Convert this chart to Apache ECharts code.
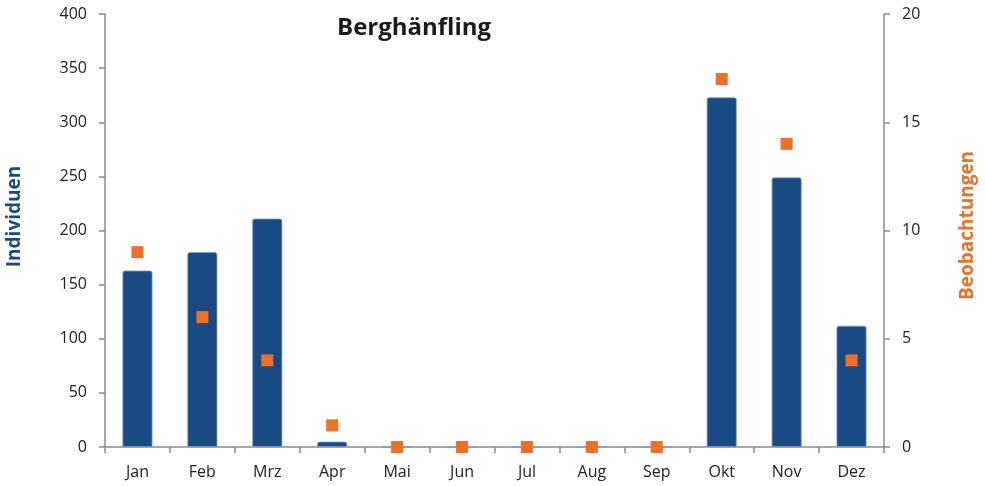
<!DOCTYPE html>
<html>
<head>
<meta charset="utf-8">
<script src="https://cdn.jsdelivr.net/npm/echarts@6/dist/echarts.min.js"></script>
<style>
  html, body { margin: 0; padding: 0; background: #fff; }
  #chart { width: 985px; height: 486px; }
</style>
</head>
<body>
<div id="chart"></div>
<script>
const months = ['Jan', 'Feb', 'Mrz', 'Apr', 'Mai', 'Jun', 'Jul', 'Aug', 'Sep', 'Okt', 'Nov', 'Dez']
const individuen = [163, 180, 211, 5, 0, 0, 0, 0, 0, 323, 249, 112]
const beobachtungen = [9, 6, 4, 1, 0, 0, 0, 0, 0, 17, 14, 4]
const leftTicks = [0, 400, 50]
const rightTicks = [0, 20, 5]

const fontFamily = '"Open Sans", "Liberation Sans", sans-serif'
const axisGray = '#8c8c8c'
const blue = '#1a4a84'
const orange = '#ec7025'

const chart = echarts.init(document.getElementById('chart'))
chart.setOption({
  backgroundColor: '#fff',
  animation: false,
  title: {
    text: 'Berghänfling',
    left: 332,
    top: 11,
    textStyle: {
      fontFamily: fontFamily,
      fontSize: 24,
      fontWeight: 'bold',
      color: '#1a1a1a'
    }
  },
  grid: {
    left: 105,
    right: 101,
    top: 14,
    bottom: 39,
    outerBoundsMode: 'none'
  },
  xAxis: {
    type: 'category',
    data: months,
    boundaryGap: true,
    axisLine: { lineStyle: { color: axisGray, width: 1.5 } },
    axisTick: { show: true, length: 6, lineStyle: { color: axisGray, width: 1.5 } },
    axisLabel: {
      margin: 17,
      fontFamily: fontFamily,
      fontSize: 16,
      color: '#222'
    }
  },
  yAxis: [
    {
      type: 'value',
      min: leftTicks[0],
      max: leftTicks[1],
      interval: leftTicks[2],
      name: 'Individuen',
      nameLocation: 'middle',
      nameGap: 81,
      nameTextStyle: {
        fontFamily: fontFamily,
        fontSize: 19,
        fontWeight: 'bold',
        color: blue,
        padding: [0, 0, 0, 28]
      },
      axisLine: { show: true, lineStyle: { color: axisGray, width: 1.5 } },
      axisTick: { show: true, length: 6, lineStyle: { color: axisGray, width: 1.5 } },
      axisLabel: {
        margin: 18,
        fontFamily: fontFamily,
        fontSize: 16,
        color: '#222'
      },
      splitLine: { show: false }
    },
    {
      type: 'value',
      min: rightTicks[0],
      max: rightTicks[1],
      interval: rightTicks[2],
      name: 'Beobachtungen',
      nameLocation: 'middle',
      nameGap: 74,
      nameTextStyle: {
        fontFamily: fontFamily,
        fontSize: 19,
        fontWeight: 'bold',
        color: orange,
        padding: [0, 0, 0, 10]
      },
      axisLine: { show: true, lineStyle: { color: axisGray, width: 1.5 } },
      axisTick: { show: true, length: 6, lineStyle: { color: axisGray, width: 1.5 } },
      axisLabel: {
        margin: 18,
        fontFamily: fontFamily,
        fontSize: 16,
        color: '#222'
      },
      splitLine: { show: false }
    }
  ],
  series: [
    {
      name: 'Individuen',
      type: 'bar',
      yAxisIndex: 0,
      data: individuen,
      barWidth: 30,
      itemStyle: {
        color: blue,
        borderColor: '#7f9cc4',
        borderWidth: 0.8,
        borderRadius: [2, 2, 0, 0]
      }
    },
    {
      name: 'Beobachtungen',
      type: 'scatter',
      yAxisIndex: 1,
      data: beobachtungen,
      symbol: 'rect',
      symbolSize: 12,
      z: 5,
      itemStyle: {
        color: orange,
        opacity: 1
      }
    }
  ]
})
</script>
</body>
</html>
